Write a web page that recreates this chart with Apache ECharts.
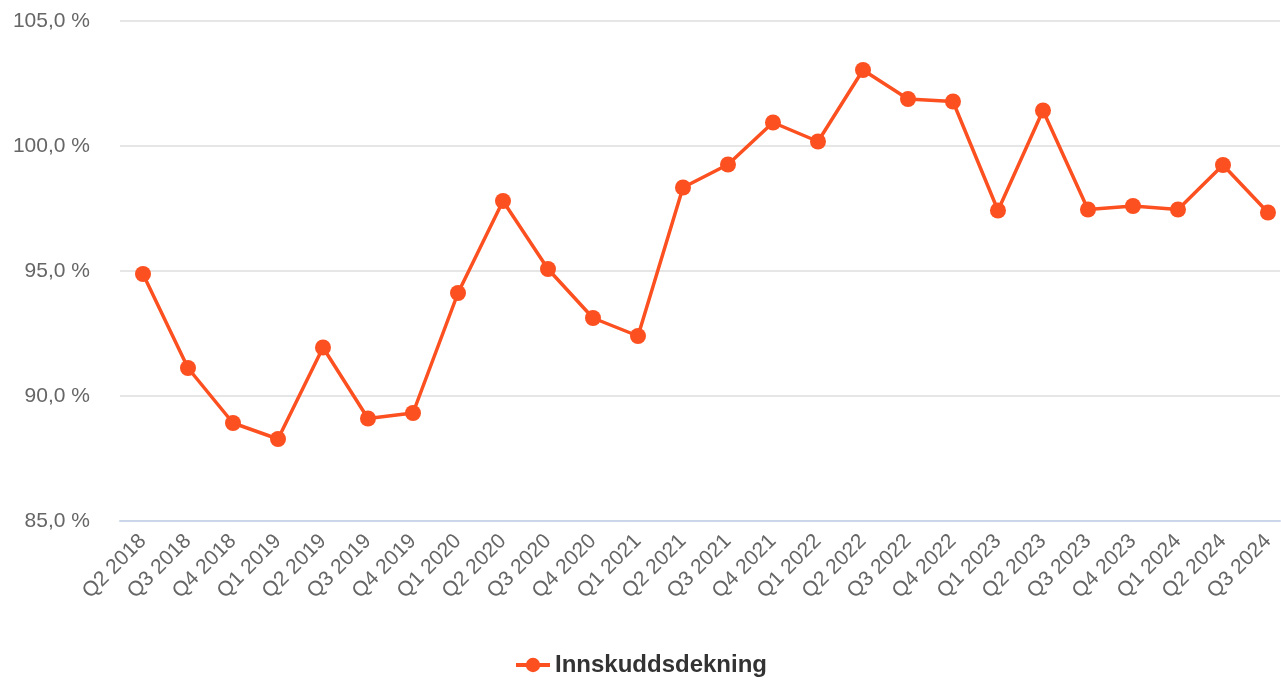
<!DOCTYPE html>
<html>
<head>
<meta charset="utf-8">
<script src="https://cdn.jsdelivr.net/npm/echarts@6/dist/echarts.min.js"></script>
<style>
  html, body { margin: 0; padding: 0; background: #fff; }
  #chart { width: 1281px; height: 682px; }
</style>
</head>
<body>
<div id="chart"></div>
<script>
// kvartaler
const categories = [
  'Q2 2018', 'Q3 2018', 'Q4 2018', 'Q1 2019', 'Q2 2019', 'Q3 2019', 'Q4 2019',
  'Q1 2020', 'Q2 2020', 'Q3 2020', 'Q4 2020', 'Q1 2021', 'Q2 2021', 'Q3 2021',
  'Q4 2021', 'Q1 2022', 'Q2 2022', 'Q3 2022', 'Q4 2022', 'Q1 2023', 'Q2 2023',
  'Q3 2023', 'Q4 2023', 'Q1 2024', 'Q2 2024', 'Q3 2024'
];
// innskuddsdekning i prosent
const depositCoverage = [
  94.88, 91.12, 88.92, 88.28, 91.94, 89.1, 89.32,
  94.12, 97.8, 95.08, 93.12, 92.4, 98.34, 99.26,
  100.94, 100.18, 103.04, 101.88, 101.78, 97.42, 101.42,
  97.46, 97.6, 97.46, 99.24, 97.34
];
const yTicks = [85, 90, 95, 100, 105];
const seriesName = 'Innskuddsdekning';

const color = '#fc5020';
const font = 'Liberation Sans, Arial, sans-serif';

const chart = echarts.init(document.getElementById('chart'));

const option = {
  animation: false,
  grid: { left: 120, right: 1, top: 21, bottom: 161, containLabel: false },
  xAxis: {
    type: 'value',
    min: -0.511,
    max: 25.267,
    splitLine: { show: false },
    axisLine: { show: true, lineStyle: { color: '#ccd6eb', width: 2 } },
    axisTick: { show: false },
    axisLabel: {
      customValues: categories.map((c, i) => i),
      formatter: (v) => categories[Math.round(v)] || '',
      rotate: 45,
      color: '#666666',
      fontSize: 21,
      fontFamily: font,
      margin: 17
    }
  },
  yAxis: {
    type: 'value',
    min: yTicks[0],
    max: yTicks[yTicks.length - 1],
    interval: 5,
    axisLine: { show: false },
    axisTick: { show: false },
    splitLine: { lineStyle: { color: '#e6e6e6', width: 2 } },
    axisLabel: {
      formatter: (v) => v.toFixed(1).replace('.', ',') + ' %',
      color: '#666666',
      fontSize: 21,
      fontFamily: font,
      margin: 30,
      padding: [3, 0, 0, 0]
    }
  },
  legend: {
    bottom: 0,
    left: 'center',
    itemWidth: 34,
    itemHeight: 18,
    itemGap: 10,
    itemStyle: { borderWidth: 0 },
    lineStyle: { width: 4 },
    textStyle: { color: '#333333', fontSize: 24, fontWeight: 'bold', fontFamily: font }
  },
  series: [{
    name: seriesName,
    type: 'line',
    data: depositCoverage.map((v, i) => [i, v]),
    symbol: 'circle',
    symbolSize: 16,
    color: color,
    lineStyle: { width: 3.5, color: color },
    itemStyle: { color: color }
  }]
};

chart.setOption(option);
</script>
</body>
</html>
